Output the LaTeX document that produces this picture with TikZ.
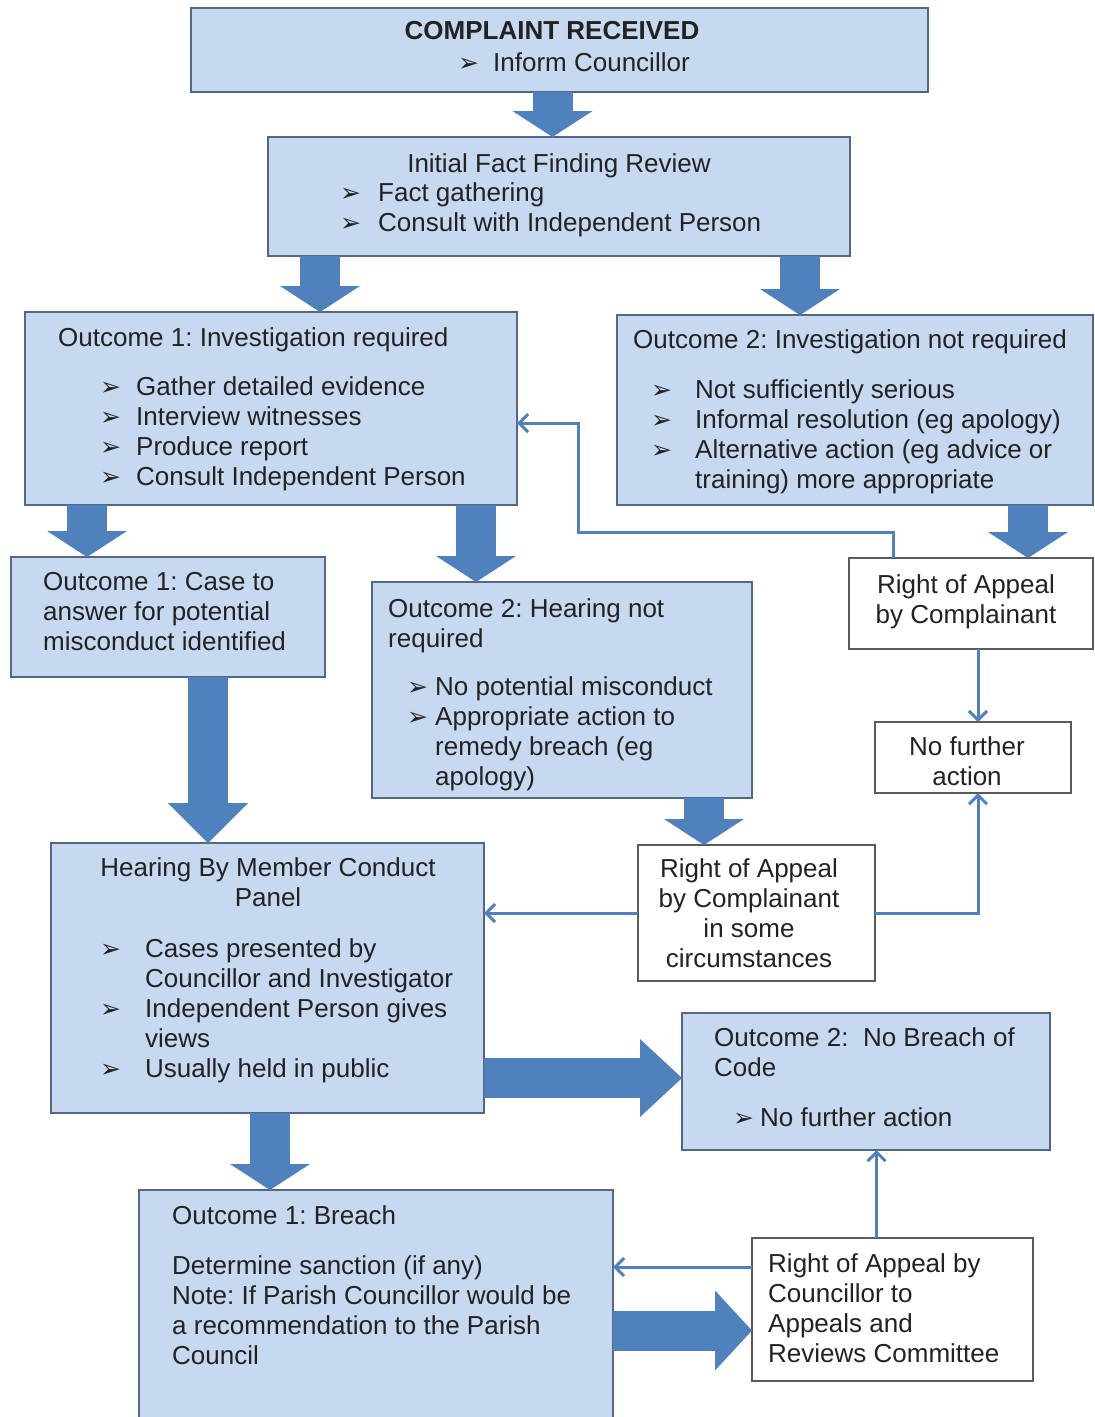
\documentclass[tikz,border=0pt]{standalone}
\usepackage{fontspec}
\setmainfont{Liberation Sans}
\newfontfamily\dingfont{DejaVu Sans}
\usepackage{xcolor}
\usepackage{tikz}
\usetikzlibrary{arrows.meta,calc}
\frenchspacing

\definecolor{boxfill}{RGB}{198,217,241}
\definecolor{boxline}{RGB}{84,104,134}
\definecolor{whiteline}{RGB}{90,90,90}
\definecolor{arrowblue}{RGB}{79,129,189}
\definecolor{textcol}{RGB}{34,34,34}

\newcommand{\bul}{{\dingfont\fontsize{25}{25}\selectfont ➢}}
\newcommand{\bi}[1]{\makebox[#1pt][l]{\bul}}
\newcommand{\bs}[1]{\hspace*{#1pt}}

\tikzset{
  bluebox/.style={draw=boxline, fill=boxfill, line width=1.5pt, anchor=north west, inner sep=0pt, outer sep=0pt},
  whitebox/.style={bluebox, draw=whiteline, fill=white},
  txt/.style={font=\fontsize{26}{30}\selectfont, text=textcol, inner sep=0pt, align=left, anchor=north west},
  ctxt/.style={txt, align=center, anchor=north},
  bigarrow/.style={line width=40pt, draw=arrowblue, -{Triangle[width=80pt,length=26pt,line width=0pt]}},
  link/.style={line width=3pt, draw=arrowblue, -{Straight Barb[length=9pt,width=18pt]}},
}

\begin{document}
\begin{tikzpicture}[x=1pt,y=1pt,yscale=-1,xscale=1]
\useasboundingbox (0,0) rectangle (1095,1417);

%Shape: Rectangle
\node (complaint) [bluebox, minimum width=737, minimum height=84] at (191,8) {};
\node (review) [bluebox, minimum width=582, minimum height=119] at (268,137) {};
\node (inv) [bluebox, minimum width=492, minimum height=193] at (25,312) {};
\node (notreq) [bluebox, minimum width=476, minimum height=190] at (617,315) {};
\node (caseb) [bluebox, minimum width=314, minimum height=120] at (11,557) {};
\node (hnr) [bluebox, minimum width=380, minimum height=216] at (372,582) {};
\node (rapp1) [whitebox, minimum width=244, minimum height=91] at (849,558) {};
\node (nfa) [whitebox, minimum width=196, minimum height=71] at (875,722) {};
\node (hearing) [bluebox, minimum width=433, minimum height=270] at (51,843) {};
\node (rapp2) [whitebox, minimum width=237, minimum height=136] at (638,845) {};
\node (nobreach) [bluebox, minimum width=368, minimum height=137] at (682,1013) {};
\node (breach) [bluebox, minimum width=474, minimum height=232] at (139,1190) {};
\node (rapp3) [whitebox, minimum width=281, minimum height=143] at (752,1238) {};

%Block Arrows
\draw [bigarrow] ($(complaint.south)+(-7,0)$) coordinate (a1) -- (a1 |- review.north);
\draw [bigarrow] ($(review.south west)+(52,0)$) coordinate (a2) -- (a2 |- inv.north);
\draw [bigarrow] ($(review.south east)+(-50,0)$) coordinate (a3) -- (a3 |- notreq.north);
\draw [bigarrow] ($(inv.south west)+(62,0)$) coordinate (a4) -- (a4 |- caseb.north);
\draw [bigarrow] ($(inv.south west)+(451,0)$) coordinate (a5) -- (a5 |- hnr.north);
\draw [bigarrow] ($(notreq.south east)+(-65,0)$) coordinate (a6) -- (a6 |- rapp1.north);
\draw [bigarrow, -{Triangle[width=80pt,length=40pt,line width=0pt]}] ($(caseb.south west)+(197,0)$) coordinate (a7) -- (a7 |- hearing.north);
\draw [bigarrow] ($(hnr.south west)+(332,0)$) coordinate (a8) -- (a8 |- rapp2.north);
\draw [bigarrow] ($(hearing.south west)+(219,0)$) coordinate (a9) -- (a9 |- breach.north);
\draw [bigarrow, -{Triangle[width=78pt,length=42pt,line width=0pt]}] ($(hearing.south east)+(0,-35)$) coordinate (a10) -- (a10 -| nobreach.west);
\draw [bigarrow, -{Triangle[width=80pt,length=37pt,line width=0pt]}] ($(rapp3.west)+(0,21)$) coordinate (a11) (a11 -| breach.east) -- (a11);

%Straight Lines
\coordinate (bend) at (578,532);
\coordinate (fb) at (578,423);
\draw [link] ($(rapp1.north west)+(44,0)$) |- (bend) -- (fb) -- (fb -| inv.east);
\draw [link] ($(nfa.north |- rapp1.south)+(5,0)$) -- ($(nfa.north)+(5,0)$);
\draw [link] (rapp2.west) -- (rapp2.west -| hearing.east);
\draw [link] (rapp2.east) -| ($(nfa.south)+(5,0)$);
\draw [link] ($(rapp3.north west)+(0,29)$) coordinate (l5) -- (l5 -| breach.east);
\draw [link] ($(rapp3.north)+(-16,0)$) coordinate (l6) -- (l6 |- nobreach.south);

% Text Node
\node (tcomp) [ctxt, font=\fontsize{26}{30}\selectfont\bfseries] at (552,21) {COMPLAINT RECEIVED};
\node (tinf) [txt] at (458,52) {\bi{35}Inform Councillor};
% Text Node
\node (trev) [ctxt] at (559,153) {Initial Fact Finding Review};
\node (trevl) [txt] at (340,182) {\bi{38}Fact gathering\\ \bi{38}Consult with Independent Person};
% Text Node
\node (tinv) [txt] at (58,327) {Outcome 1: Investigation required};
\node (tinvl) [txt] at (100,376) {\bi{36}Gather detailed evidence\\ \bi{36}Interview witnesses\\ \bi{36}Produce report\\ \bi{36}Consult Independent Person};
% Text Node
\node (tnot) [txt] at (633,329) {Outcome 2: Investigation not required};
\node (tnotl) [txt] at (651,379) {\bi{44}Not sufficiently serious\\ \bi{44}Informal resolution (eg apology)\\ \bi{44}Alternative action (eg advice or\\ \bs{44}training) more appropriate};
% Text Node
\node (tcase) [txt] at (43,572) {Outcome 1: Case to\\answer for potential\\misconduct identified};
% Text Node
\node (thnr) [txt] at (388,598) {Outcome 2: Hearing not\\required};
\node (thnrl) [txt] at (407,676) {\bi{28}No potential misconduct\\ \bi{28}Appropriate action to\\ \bs{28}remedy breach (eg\\ \bs{28}apology)};
% Text Node
\node (trap1) [ctxt] at (966,574) {Right of Appeal\\by Complainant};
\node (tnfa) [ctxt] at (967,736) {No further\\action};
% Text Node
\node (thear) [ctxt] at (268,857) {Hearing By Member Conduct\\Panel};
\node (thearl) [txt] at (100,938) {\bi{45}Cases presented by\\ \bs{45}Councillor and Investigator\\ \bi{45}Independent Person gives\\ \bs{45}views\\ \bi{45}Usually held in public};
% Text Node
\node (trap2) [ctxt] at (749,858) {Right of Appeal\\by Complainant\\in some\\circumstances};
% Text Node
\node (tnob) [txt] at (714,1027) {Outcome 2:\ \ No Breach of\\Code};
\node (tnobl) [txt] at (733,1107) {\bi{27}No further action};
% Text Node
\node (tbr) [txt] at (172,1205) {Outcome 1: Breach};
\node (tbrl) [txt] at (172,1255) {Determine sanction (if any)\\Note: If Parish Councillor would be\\a recommendation to the Parish\\Council};
% Text Node
\node (trap3) [txt] at (768,1253) {Right of Appeal by\\Councillor to\\Appeals and\\Reviews Committee};
\end{tikzpicture}
\end{document}
